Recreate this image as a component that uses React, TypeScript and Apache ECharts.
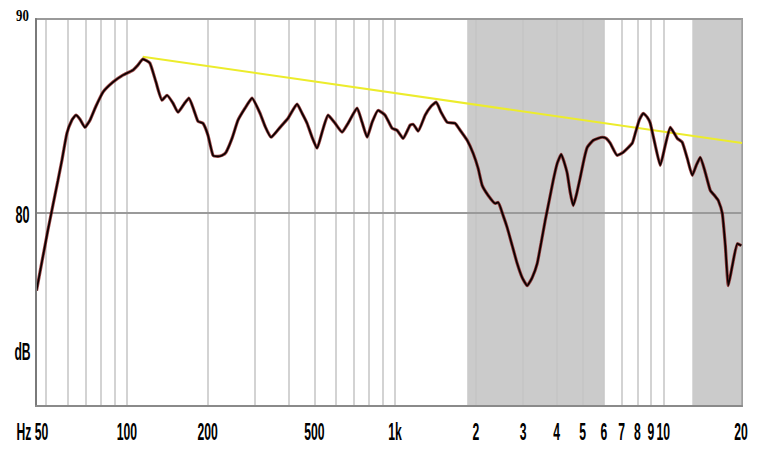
import React, { useEffect, useRef } from "react";
import * as echarts from "echarts";

const freqHz = [
  46, 50.7, 55.3, 57.2, 59.7, 62.3, 64.5, 66.8, 69.7, 72.8,
  76.6, 81.4, 88.7, 96.6, 105.3, 109.9, 114.7, 121.8, 128.3, 135.1,
  141.1, 148.5, 155, 163.2, 170.3, 177.8, 184.1, 192.1, 200.5, 209.4,
  218.5, 226.2, 234.1, 246.5, 259.5, 275.6, 292.7, 313.5, 327.3, 344.6,
  372.3, 398.8, 430.9, 449.8, 469.6, 490.2, 511.7, 534.1, 562.3, 597.2,
  634.2, 667.7, 721.5, 753.2, 786.3, 820.8, 864.2, 917.8, 974.5, 1017,
  1071, 1137, 1167, 1219, 1294, 1362, 1422, 1484, 1564, 1674,
  1748, 1857, 1954, 2040, 2112, 2224, 2361, 2423, 2529, 2618,
  2733, 2853, 2978, 3108, 3245, 3387, 3506, 3629, 3756, 3887,
  4023, 4164, 4272, 4384, 4498, 4615, 4736, 4902, 5073, 5206,
  5482, 5921, 6128, 6342, 6736, 7093, 7661, 7862, 8136, 8423,
  8717, 8944, 9336, 9745, 10173, 10619, 10990, 11277, 11772, 12289,
  12829, 13277, 13741, 14344, 14975, 15632, 16041, 16602, 17036, 17480,
  18091, 18886, 19545,
];

const levelDb = [
  75.96, 79.07, 81.66, 82.69, 84.09, 84.77, 85.03, 84.82, 84.4, 84.77,
  85.49, 86.22, 86.74, 87.1, 87.36, 87.62, 87.93, 87.72, 86.74, 85.8,
  86.06, 85.65, 85.18, 85.6, 85.91, 85.28, 84.71, 84.61, 83.99, 82.95,
  82.9, 82.95, 83.11, 83.83, 84.77, 85.39, 85.91, 85.13, 84.46, 83.89,
  84.4, 84.87, 85.6, 85.13, 84.61, 83.89, 83.32, 84.15, 85.03, 84.61,
  84.15, 84.61, 85.39, 84.66, 83.89, 84.66, 85.28, 85.03, 84.35, 84.25,
  83.83, 84.51, 84.56, 84.2, 85.03, 85.49, 85.7, 85.18, 84.66, 84.61,
  84.25, 83.73, 83.06, 82.28, 81.4, 80.88, 80.47, 80.52, 79.84, 79.22,
  78.29, 77.36, 76.63, 76.22, 76.63, 77.36, 78.45, 79.59, 80.62, 81.66,
  82.54, 83.01, 82.59, 82.02, 81.04, 80.36, 80.88, 81.81, 82.8, 83.37,
  83.73, 83.89, 83.83, 83.58, 82.95, 83.11, 83.58, 84.09, 84.77, 85.13,
  84.92, 84.61, 83.47, 82.44, 83.47, 84.4, 84.09, 83.83, 83.63, 82.8,
  81.92, 82.44, 82.85, 82.07, 81.14, 80.83, 80.62, 79.95, 78.29, 76.22,
  77.25, 78.39, 78.29,
];

const trendHz = [114.5, 19660];
const trendDb = [88.05, 83.59];

const gridFreqs = [
  50, 60, 70, 80, 90, 100, 200, 300, 400, 500, 600, 700, 800, 900, 1000,
  2000, 3000, 4000, 5000, 6000, 7000, 8000, 9000, 10000,
];

const shadeBands = [
  [1857, 6000],
  [12830, 19660],
];

const xTickHz = [50, 100, 200, 500, 1000, 2000, 3000, 4000, 5000, 6000, 7000, 8000, 9000, 10000, 20000];
const xTickText = ["Hz 50", "100", "200", "500", "1k", "2", "3", "4", "5", "6", "7", "8", "9", "10", "20"];
const yTickDb = [90, 80];
const yTickText = ["90", "80"];
const yUnitText = "dB";
const yUnitDb = 72.8;

const X_MIN = 45.8;
const X_MAX = 19660;
const Y_MIN = 70;
const Y_MAX = 90;

export default function App() {
  const ref = useRef<HTMLDivElement>(null);

  useEffect(() => {
    if (!ref.current) return;
    const chart = echarts.init(ref.current, null, { renderer: "svg" });
    const curve = freqHz.map((f, i) => [f, levelDb[i]]);
    const trend = trendHz.map((f, i) => [f, trendDb[i]]);

    chart.setOption({
      animation: false,
      backgroundColor: "#ffffff",
      grid: {
        left: 36,
        right: 32,
        top: 19,
        bottom: 55,
        show: true,
        backgroundColor: "#ffffff",
        borderColor: "#9a9a9a",
        borderWidth: 2,
      },
      xAxis: {
        type: "log",
        logBase: 10,
        min: X_MIN,
        max: X_MAX,
        z: 20,
        axisLine: { show: true, lineStyle: { color: "#8a8a8a", width: 2 } },
        axisTick: { show: false },
        axisLabel: { show: false },
        splitLine: { show: false },
        minorTick: { show: false },
      },
      yAxis: {
        type: "value",
        min: Y_MIN,
        max: Y_MAX,
        interval: 10,
        z: 20,
        axisLine: { show: true, lineStyle: { color: "#7a7a7a", width: 2 } },
        axisTick: { show: false },
        axisLabel: { show: false },
        splitLine: { show: false },
      },
      series: [
        {
          type: "line",
          data: trend,
          z: 9,
          silent: true,
          showSymbol: false,
          symbol: "none",
          lineStyle: { color: "#ecec2c", width: 2 },
          markArea: {
            silent: true,
            z: 1,
            itemStyle: { color: "#cbcbcb" },
            data: shadeBands.map(([a, b]) => [{ xAxis: a }, { xAxis: b }]),
          },
          markLine: {
            silent: true,
            z: 2,
            symbol: ["none", "none"],
            label: { show: false },
            lineStyle: { color: "#c4c4c4", width: 1.5, type: "solid" },
            data: [
              ...gridFreqs.map((f) => ({ xAxis: f })),
              { yAxis: 80, lineStyle: { color: "#9a9a9a", width: 2, type: "solid" } },
              { yAxis: Y_MAX, lineStyle: { color: "#9a9a9a", width: 2, type: "solid" } },
              { xAxis: X_MAX, lineStyle: { color: "#a0a0a0", width: 1.5, type: "solid" } },
            ],
          },
        },
        {
          type: "line",
          data: curve,
          z: 11,
          silent: true,
          showSymbol: false,
          symbol: "none",
          smooth: 0.15,
          lineStyle: { color: "#7a0a0a", width: 3.2, opacity: 0.75 },
        },
        {
          type: "line",
          data: curve,
          z: 12,
          silent: true,
          showSymbol: false,
          symbol: "none",
          smooth: 0.15,
          lineStyle: { color: "#0a0000", width: 1.7 },
        },
      ],
    });

    const px = (f: number) => chart.convertToPixel({ xAxisIndex: 0 }, f) as number;
    const py = (v: number) => chart.convertToPixel({ yAxisIndex: 0 }, v) as number;
    const rightEdge = px(X_MAX);
    const bottomEdge = py(Y_MIN);
    const sansFont = 'bold 23px "Liberation Sans", Arial, sans-serif';
    const serifFont = 'bold 16px "Liberation Serif", "Times New Roman", serif';

    const graphic: any[] = [];
    xTickHz.forEach((f, i) => {
      const first = i === 0;
      const x = Math.min(px(f), rightEdge - 1);
      graphic.push({
        type: "text",
        x: first ? x + 2 : x,
        y: bottomEdge + 26,
        scaleX: 0.53,
        silent: true,
        style: {
          text: xTickText[i],
          font: sansFont,
          fill: "#000",
          align: first ? "right" : "center",
          verticalAlign: "middle",
        },
      });
    });
    yTickDb.forEach((v, i) => {
      const top = v === Y_MAX;
      graphic.push({
        type: "text",
        x: 22.5,
        y: top ? py(v) - 3.5 : py(v) + 2,
        scaleX: top ? 0.8 : 0.55,
        silent: true,
        style: {
          text: yTickText[i],
          font: top ? serifFont : sansFont,
          fill: "#000",
          align: "center",
          verticalAlign: "middle",
        },
      });
    });
    graphic.push({
      type: "text",
      x: 22.5,
      y: py(yUnitDb),
      scaleX: 0.53,
      silent: true,
      style: {
        text: yUnitText,
        font: sansFont,
        fill: "#000",
        align: "center",
        verticalAlign: "middle",
      },
    });
    chart.setOption({ graphic });

    return () => {
      chart.dispose();
    };
  }, []);

  return (
    <div
      ref={ref}
      style={{ position: "absolute", left: 0, top: 0, width: 774, height: 461 }}
    />
  );
}
